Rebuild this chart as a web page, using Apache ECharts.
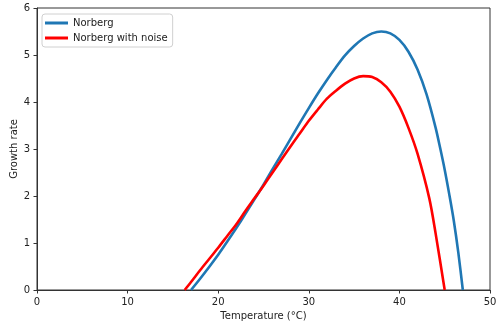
<!DOCTYPE html>
<html>
<head>
<meta charset="utf-8">
<script src="https://cdn.jsdelivr.net/npm/echarts@6/dist/echarts.min.js"></script>
<style>html,body{margin:0;padding:0;background:#fff}#c{width:497px;height:323px}</style>
</head>
<body>
<div id="c"></div>
<script>
var seriesNames = ['Norberg', 'Norberg with noise'];
var xTicks = [0, 10, 20, 30, 40, 50];
var yTicks = [0, 1, 2, 3, 4, 5, 6];

var norbergT = [17, 18, 19, 20, 21, 22, 23, 24, 25, 26, 27, 28, 29, 30, 31, 32, 33, 34, 35, 36, 37, 38, 39, 40, 41, 42, 43, 44, 44.5, 45, 45.5, 46, 46.5, 47];
var norbergY = [0, 0.24, 0.49, 0.75, 1.03, 1.32, 1.62, 1.93, 2.24, 2.57, 2.89, 3.22, 3.55, 3.87, 4.18, 4.47, 4.74, 4.99, 5.19, 5.35, 5.46, 5.50, 5.46, 5.32, 5.07, 4.69, 4.16, 3.45, 3.02, 2.56, 2.04, 1.48, 0.80, 0];

var noiseT = [16.3, 17, 18, 19, 20, 21, 22, 23, 24, 25, 26, 27, 28, 29, 30, 31, 32, 33, 34, 35, 36, 37, 38, 39, 40, 41, 42, 43.3, 44, 45];
var noiseY = [0, 0.17, 0.42, 0.66, 0.9, 1.15, 1.4, 1.68, 1.95, 2.22, 2.5, 2.78, 3.06, 3.33, 3.6, 3.84, 4.07, 4.24, 4.39, 4.5, 4.55, 4.53, 4.42, 4.22, 3.9, 3.45, 2.9, 1.95, 1.2, 0];

function pairs(xs, ys) { return xs.map(function (x, i) { return [x, ys[i]]; }); }

var font = 'DejaVu Sans';
var chart = echarts.init(document.getElementById('c'), null, {renderer: 'canvas'});
chart.setOption({
  animation: false,
  backgroundColor: '#fff',
  grid: {left: 37, right: 7, top: 8, bottom: 33, show: true, borderColor: '#333', borderWidth: 1,
         containLabel: false, outerBoundsMode: 'none'},
  legend: {
    left: 42, top: 14, orient: 'vertical',
    data: seriesNames.map(function (n) { return {name: n, icon: 'rect'}; }),
    itemWidth: 23, itemHeight: 3, itemGap: 3,
    padding: [3, 5, 3, 3],
    backgroundColor: '#fff', borderColor: '#d0d0d0', borderWidth: 1, borderRadius: 3,
    textStyle: {fontFamily: font, fontSize: 10, color: '#222', lineHeight: 12}
  },
  xAxis: {
    type: 'value', min: xTicks[0], max: xTicks[xTicks.length - 1], interval: 10,
    name: 'Temperature (°C)', nameLocation: 'middle', nameGap: 21, nameMoveOverlap: false,
    nameTextStyle: {fontFamily: font, fontSize: 10, color: '#222'},
    axisLine: {show: true, lineStyle: {color: '#333', width: 1}},
    axisTick: {show: true, inside: false, length: 3.5, lineStyle: {color: '#333'}},
    axisLabel: {fontFamily: font, fontSize: 10, color: '#222', margin: 7},
    splitLine: {show: false}
  },
  yAxis: {
    type: 'value', min: yTicks[0], max: yTicks[yTicks.length - 1], interval: 1,
    name: 'Growth rate', nameLocation: 'middle', nameGap: 18, nameMoveOverlap: false,
    nameTextStyle: {fontFamily: font, fontSize: 10, color: '#222'},
    axisLine: {show: true, lineStyle: {color: '#333', width: 1}},
    axisTick: {show: true, inside: false, length: 3.5, lineStyle: {color: '#333'}},
    axisLabel: {fontFamily: font, fontSize: 10, color: '#222', margin: 7},
    splitLine: {show: false}
  },
  series: [
    {name: seriesNames[0], type: 'line', data: pairs(norbergT, norbergY), smooth: 0.3, showSymbol: false,
     lineStyle: {color: '#1f77b4', width: 2.6}, itemStyle: {color: '#1f77b4'}, z: 2},
    {name: seriesNames[1], type: 'line', data: pairs(noiseT, noiseY), smooth: 0.3, showSymbol: false,
     lineStyle: {color: '#ff0000', width: 2.6}, itemStyle: {color: '#ff0000'}, z: 3}
  ]
});
</script>
</body>
</html>
